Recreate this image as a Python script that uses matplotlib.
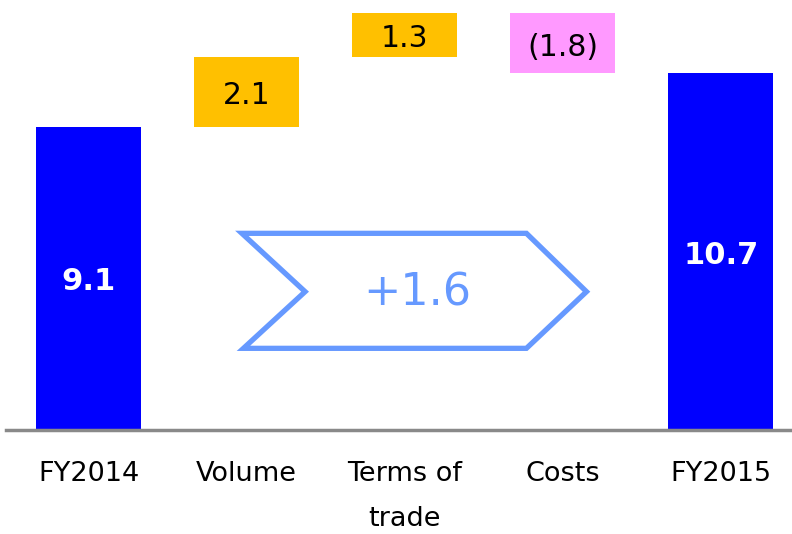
import numpy as np
import matplotlib
matplotlib.use("Agg")
import matplotlib.pyplot as plt
from matplotlib.patches import Polygon

# data
categories = ["FY2014", "Volume", "Terms of\ntrade", "Costs", "FY2015"]
start_value = 9.1
deltas = [2.1, 1.3, -1.8]
end_value = 10.7
delta_labels = ["2.1", "1.3", "(1.8)"]

blue = "#0000FF"
orange = "#FFC000"
pink = "#FF99FF"
arrow_col = "#6699FF"

plt.rcParams['font.family'] = ['DejaVu Sans']

fig = plt.figure(figsize=(7.92, 5.34), dpi=100)
ax = fig.add_axes([0, 104 / 534, 1, 430 / 534])

x = np.arange(len(categories))
width = 0.665

# totals
ax.bar(x[0], start_value, width=width, color=blue)
ax.bar(x[-1], end_value, width=width, color=blue)
ax.text(x[0], start_value / 2 - 0.1, f"{start_value:.1f}", ha='center', va='center',
        color='white', fontsize=22, fontweight='bold')
ax.text(x[-1], end_value / 2 - 0.1, f"{end_value:.1f}", ha='center', va='center',
        color='white', fontsize=22, fontweight='bold')

# floating steps
level = start_value
for i, (d, lab) in enumerate(zip(deltas, delta_labels)):
    bottom = level if d > 0 else level + d
    col = orange if d > 0 else pink
    ax.bar(x[i + 1], abs(d), bottom=bottom, width=width, color=col)
    ax.text(x[i + 1], bottom + abs(d) / 2 - 0.12, lab, ha='center', va='center',
            color='black', fontsize=21.5)
    level += d

# chevron with the total change
change = end_value - start_value
chev = Polygon([(0.97, 5.9), (2.77, 5.9), (3.15, 4.15), (2.77, 2.45),
                (0.98, 2.45), (1.37, 4.15)], closed=True, fill=False,
               edgecolor=arrow_col, linewidth=3.8, joinstyle='miter')
ax.add_patch(chev)
ax.text(2.08, 4.1, f"+{change:.1f}", ha='center', va='center',
        color=arrow_col, fontsize=32)

ax.set_xlim(-0.56, 4.45)
ax.set_ylim(0, 12.9)
ax.set_xticks(x)
ax.set_xticklabels(categories, fontsize=19.5)
for t in ax.get_xticklabels():
    t.set_linespacing(1.95)
ax.tick_params(axis='x', length=0, pad=22)
ax.set_yticks([])
for s in ['top', 'left', 'right']:
    ax.spines[s].set_visible(False)
ax.spines['bottom'].set_color('#898989')
ax.spines['bottom'].set_linewidth(2.5)
ax.spines['bottom'].set_bounds(-0.52, 4.45)
ax.patch.set_alpha(0)

fig.savefig("out.png", dpi=100)
